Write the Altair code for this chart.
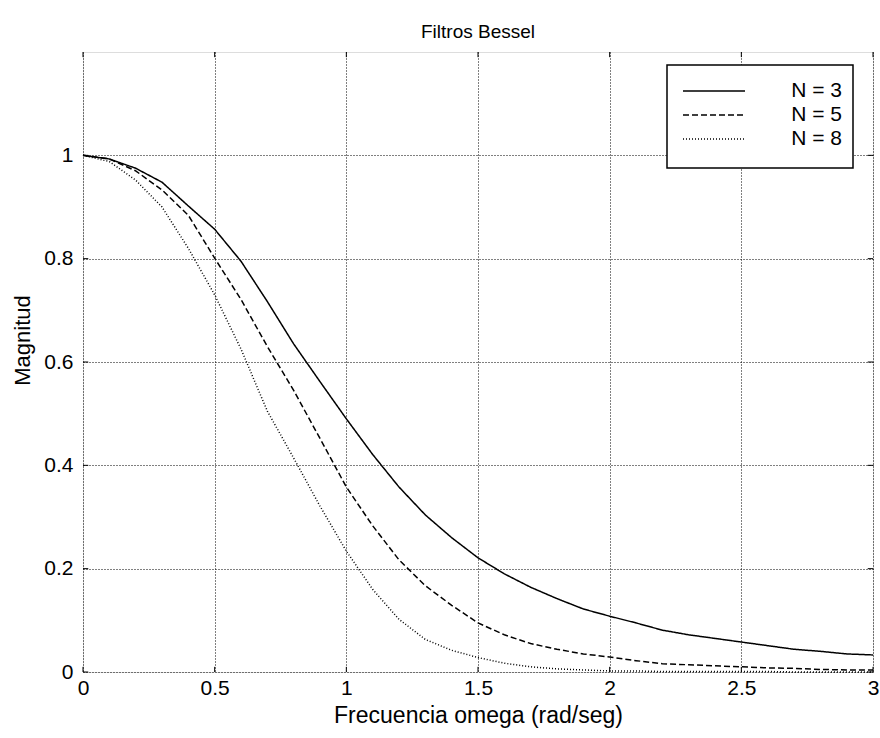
import altair as alt
import pandas as pd

# Frequency samples (rad/s)
omega = [0.0, 0.1, 0.2, 0.3, 0.4, 0.5, 0.6, 0.7, 0.8, 0.9, 1.0,
         1.1, 1.2, 1.3, 1.4, 1.5, 1.6, 1.7, 1.8, 1.9, 2.0,
         2.1, 2.2, 2.3, 2.4, 2.5, 2.6, 2.7, 2.8, 2.9, 3.0]

# Magnitudes
mag_n3 = [1.000, 0.993, 0.975, 0.948, 0.902, 0.857, 0.795, 0.717, 0.635, 0.562, 0.490,
          0.421, 0.358, 0.304, 0.260, 0.221, 0.190, 0.164, 0.142, 0.122, 0.108,
          0.095, 0.081, 0.072, 0.065, 0.058, 0.051, 0.044, 0.040, 0.035, 0.033]
mag_n5 = [1.000, 0.993, 0.970, 0.933, 0.884, 0.801, 0.721, 0.630, 0.545, 0.452, 0.358,
          0.283, 0.217, 0.167, 0.129, 0.095, 0.072, 0.055, 0.044, 0.035, 0.029,
          0.022, 0.016, 0.014, 0.012, 0.010, 0.008, 0.007, 0.005, 0.004, 0.004]
mag_n8 = [1.000, 0.988, 0.952, 0.900, 0.820, 0.730, 0.625, 0.505, 0.414, 0.321, 0.234,
          0.160, 0.102, 0.063, 0.042, 0.028, 0.017, 0.010, 0.006, 0.004, 0.002,
          0.002, 0.001, 0.001, 0.001, 0.001, 0.001, 0.000, 0.000, 0.000, 0.000]

series_names = ["N = 3", "N = 5", "N = 8"]
series_dash = [[1, 0], [6, 3], [1, 2]]
x_ticks = [0, 0.5, 1, 1.5, 2, 2.5, 3]
y_ticks = [0, 0.2, 0.4, 0.6, 0.8, 1]

rows = []
for name, mags in zip(series_names, [mag_n3, mag_n5, mag_n8]):
    for w, m in zip(omega, mags):
        rows.append({"omega": w, "mag": m, "serie": name})
df = pd.DataFrame(rows)

FONT = "Liberation Sans"

x_scale = alt.Scale(domain=[0, 3], nice=False, zero=False)
y_scale = alt.Scale(domain=[0, 1.2], nice=False, zero=False)

lines = alt.Chart(df).mark_line(color="black", strokeWidth=1.5).encode(
    x=alt.X("omega:Q", scale=x_scale,
            axis=alt.Axis(title="Frecuencia omega (rad/seg)", values=x_ticks, format="~g",
                          ticks=False, domain=False, grid=True, labelFlush=False,
                          gridColor="black", gridDash=[1, 2], gridOpacity=1, gridWidth=1,
                          labelFont=FONT, labelFontSize=21, labelColor="black",
                          labelPadding=5, titleFont=FONT, titleFontSize=23,
                          titleFontWeight="normal", titleColor="black", titlePadding=6)),
    y=alt.Y("mag:Q", scale=y_scale,
            axis=alt.Axis(title="Magnitud", values=y_ticks, format="~g",
                          ticks=False, domain=False, grid=True, labelFlush=False,
                          gridColor="black", gridDash=[1, 2], gridOpacity=1, gridWidth=1,
                          labelFont=FONT, labelFontSize=21, labelColor="black",
                          labelPadding=10, titleFont=FONT, titleFontSize=22,
                          titleFontWeight="normal", titleColor="black", titlePadding=9,
                          titleY=288)),
    strokeDash=alt.StrokeDash("serie:N",
                              scale=alt.Scale(domain=series_names, range=series_dash),
                              legend=None),
    order=alt.Order("omega:Q"),
)

# Inward tick marks (MATLAB style)
tick_len_y = 0.01
tick_len_x = 0.02
xt = pd.DataFrame({"omega": x_ticks})
yt = pd.DataFrame({"mag": y_ticks})
tick_bottom = alt.Chart(xt).mark_rule(color="black", strokeWidth=1).encode(
    x="omega:Q", y=alt.datum(0), y2=alt.datum(tick_len_y))
tick_top = alt.Chart(xt).mark_rule(color="black", strokeWidth=1).encode(
    x="omega:Q", y=alt.datum(1.2), y2=alt.datum(1.2 - tick_len_y))
tick_left = alt.Chart(yt).mark_rule(color="black", strokeWidth=1).encode(
    y="mag:Q", x=alt.datum(0), x2=alt.datum(tick_len_x))
tick_right = alt.Chart(yt).mark_rule(color="black", strokeWidth=1).encode(
    y="mag:Q", x=alt.datum(3), x2=alt.datum(3 - tick_len_x))

# Legend box (MATLAB style, drawn manually)
one = pd.DataFrame({"k": [0]})
legend_layers = [
    alt.Chart(one).mark_rect(fill="white", stroke="black", strokeWidth=1.5).encode(
        x=alt.value(584), x2=alt.value(770), y=alt.value(13), y2=alt.value(116))
]
row_y = [39, 63, 87]
for name, dash, ry in zip(series_names, series_dash, row_y):
    legend_layers.append(
        alt.Chart(one).mark_rule(color="black", strokeWidth=1.5, strokeDash=dash).encode(
            x=alt.value(600), x2=alt.value(662), y=alt.value(ry)))
    legend_layers.append(
        alt.Chart(one).mark_text(align="right", baseline="middle", font=FONT,
                                 fontSize=21, color="black", text=name).encode(
            x=alt.value(759), y=alt.value(ry)))

chart = alt.layer(lines, tick_bottom, tick_top, tick_left, tick_right,
                  *legend_layers).properties(
    width=790, height=620,
    title=alt.Title("Filtros Bessel", font=FONT, fontSize=19, fontWeight="normal",
                    color="black", offset=10, anchor="middle"),
    autosize=alt.AutoSizeParams(type="none"),
    padding={"left": 83, "top": 52, "right": 7, "bottom": 66},
).configure_view(
    stroke="black", strokeWidth=2
).configure(background="white")

chart.save("out.html", embed_options={"renderer": "svg", "actions": False})
